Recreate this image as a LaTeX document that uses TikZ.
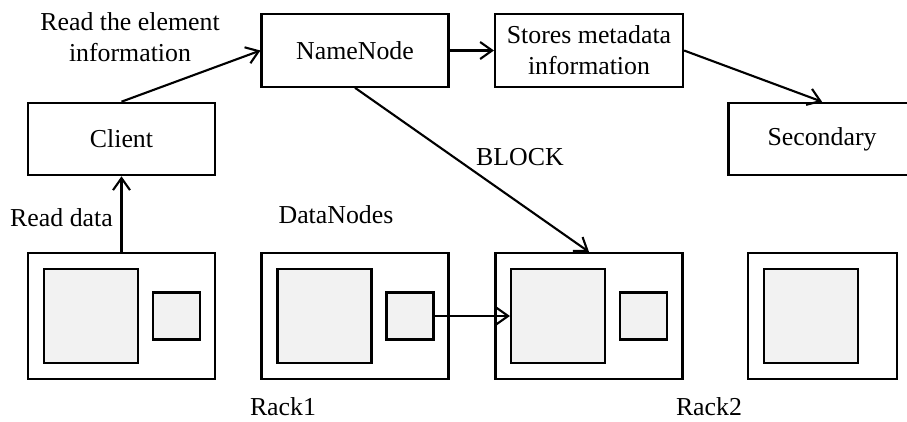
\documentclass[tikz,border=0pt]{standalone}
\usepackage{fontspec}
\setmainfont{Liberation Serif}
\usetikzlibrary{arrows.meta,positioning}
\definecolor{ink}{HTML}{000000}
\definecolor{blockfill}{HTML}{F2F2F2}

\begin{document}
\begin{tikzpicture}[
  x=1cm,y=1cm,
  font=\fontsize{14.7}{17.6}\selectfont,
  text=ink,
  box/.style={draw=ink, line width=1.2pt, fill=white, align=center,
    inner sep=0pt, minimum width=3.74cm, minimum height=1.45cm},
  server/.style={draw=ink, line width=1.2pt, fill=white, inner sep=0pt,
    minimum width=3.74cm, minimum height=2.52cm},
  bigblock/.style={draw=ink, line width=1.2pt, fill=blockfill, inner sep=0pt,
    minimum size=1.88cm},
  smallblock/.style={draw=ink, line width=1.2pt, fill=blockfill, inner sep=0pt,
    minimum size=0.94cm},
  flow/.style={-{Straight Barb[length=2.4mm,width=3.4mm]}, line width=1.2pt, draw=ink},
  label/.style={align=center, inner sep=0pt}
]
\useasboundingbox (0,0) rectangle (18.14,8.42);

% Upper row: client and name service
\node[box] (namenode) at (7.10,7.41) {NameNode};
\node[box, minimum width=3.76cm] (metadata) at (11.78,7.41) {Stores metadata\\information};
\node[box] (client) at (2.43,5.64) {Client};
\node[box] (secondary) at (16.44,5.64) {Secondary};

% Lower row: data nodes
\node[server] (dn1) at (2.43,2.10) {};
\node[server] (dn2) at (7.10,2.10) {};
\node[server] (dn3) at (11.78,2.10) {};
\node[server, minimum width=2.98cm] (dn4) at (16.45,2.10) {};

\node[bigblock] (dn1big) at (1.82,2.10) {};
\node[smallblock] (dn1small) at (3.53,2.10) {};
\node[bigblock] (dn2big) at (6.49,2.10) {};
\node[smallblock] (dn2small) at (8.20,2.10) {};
\node[bigblock] (dn3big) at (11.16,2.10) {};
\node[smallblock] (dn3small) at (12.87,2.10) {};
\node[bigblock] (dn4big) at (16.22,2.10) {};

% Labels
\node[label] (readinfo) at (2.60,7.67) {Read the element\\information};
\node[label] (blocklabel) at (10.40,5.28) {BLOCK};
\node[label] (readdata) at (1.23,4.06) {Read data};
\node[label] (datanodes) at (6.72,4.12) {DataNodes};
\node[label] (rack1) at (5.66,0.28) {Rack1};
\node[label] (rack2) at (14.18,0.28) {Rack2};

% Connectors
\draw[flow] (client.north) -- (namenode.west);
\draw[flow] (namenode.east) -- (metadata.west);
\draw[flow] (metadata.east) -- (secondary.north);
\draw[flow] (namenode.south) -- (dn3.north);
\draw[flow] (dn1.north) -- (client.south);
\draw[flow] (dn2small.east) -- (dn3big.west);

\end{tikzpicture}
\end{document}
